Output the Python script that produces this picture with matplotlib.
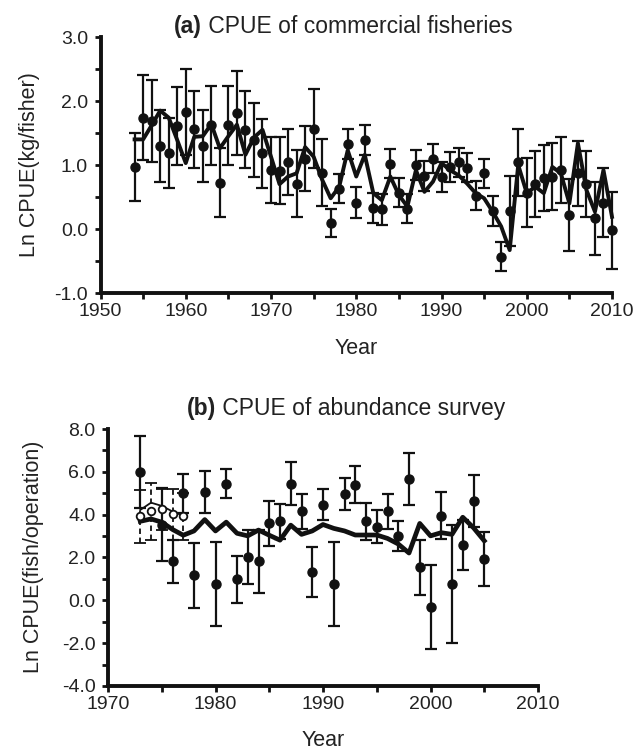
import numpy as np
import matplotlib.pyplot as plt
from matplotlib.ticker import MultipleLocator, FormatStrFormatter

plt.rcParams['font.family'] = ['Liberation Sans', 'DejaVu Sans']

# (a) commercial fisheries
years_a = list(range(1954, 2011))
cpue_a = [0.97, 1.74, 1.69, 1.30, 1.19, 1.61, 1.83, 1.56, 1.30, 1.62,
          0.72, 1.62, 1.81, 1.55, 1.39, 1.18, 0.92, 0.91, 1.05, 0.71,
          1.10, 1.57, 0.88, 0.09, 0.63, 1.33, 0.41, 1.39, 0.33, 0.31,
          1.02, 0.57, 0.32, 1.00, 0.83, 1.10, 0.81, 0.97, 1.04, 0.96,
          0.52, 0.87, 0.28, -0.43, 0.28, 1.04, 0.57, 0.70, 0.80, 0.82,
          0.92, 0.22, 0.87, 0.70, 0.17, 0.41, -0.02]
err_a = [0.53, 0.66, 0.64, 0.56, 0.55, 0.61, 0.67, 0.60, 0.56, 0.62,
         0.54, 0.62, 0.66, 0.60, 0.58, 0.54, 0.52, 0.52, 0.52, 0.53,
         0.51, 0.61, 0.52, 0.22, 0.23, 0.23, 0.24, 0.23, 0.24, 0.24,
         0.23, 0.23, 0.23, 0.24, 0.23, 0.23, 0.23, 0.23, 0.23, 0.23,
         0.23, 0.23, 0.23, 0.23, 0.55, 0.52, 0.54, 0.52, 0.52, 0.52,
         0.52, 0.56, 0.51, 0.52, 0.57, 0.54, 0.60]
fit_a = [1.40, 1.40, 1.62, 1.85, 1.74, 1.39, 1.03, 1.44, 1.45, 1.64,
         1.26, 1.45, 1.63, 1.16, 1.43, 1.55, 1.13, 0.70, 0.82, 0.87,
         1.28, 1.13, 0.77, 0.48, 0.66, 1.23, 0.82, 1.16, 0.56, 0.45,
         0.82, 0.53, 0.35, 0.92, 0.58, 0.74, 1.03, 0.92, 0.84, 0.71,
         0.56, 0.48, 0.27, 0.04, -0.33, 1.00, 0.56, 0.66, 0.56, 0.97,
         0.87, 0.40, 1.34, 0.61, 0.27, 0.92, 0.19]

# (b) abundance survey
years_b = [1973, 1975, 1976, 1977, 1978, 1979, 1980, 1981, 1982, 1983,
           1984, 1985, 1986, 1987, 1988, 1989, 1990, 1991, 1992, 1993,
           1994, 1995, 1996, 1997, 1998, 1999, 2000, 2001, 2002, 2003,
           2004, 2005]
cpue_b = [5.98, 3.54, 1.82, 4.99, 1.18, 5.07, 0.76, 5.45, 0.98, 2.02,
          1.82, 3.59, 3.69, 5.45, 4.15, 1.33, 4.46, 0.76, 4.95, 5.40,
          3.69, 3.44, 4.15, 3.01, 5.65, 1.54, -0.32, 3.95, 0.75, 2.58,
          4.64, 1.91]
err_b = [1.68, 1.72, 1.02, 0.93, 1.52, 0.99, 1.95, 0.69, 1.10, 1.27,
         1.46, 1.07, 0.82, 1.00, 0.82, 1.17, 0.73, 1.95, 0.74, 0.85,
         0.86, 0.77, 0.80, 0.70, 1.22, 1.28, 1.95, 1.09, 2.76, 1.16,
         1.20, 1.26]
years_fit_b = list(range(1973, 2006))
fit_b = [3.69, 3.80, 3.65, 3.31, 3.04, 3.24, 3.77, 3.24, 3.65, 3.13,
         3.01, 3.28, 3.04, 2.81, 3.51, 3.08, 3.24, 3.54, 3.36, 3.24,
         3.05, 3.05, 3.05, 2.89, 2.63, 2.21, 3.59, 3.01, 3.16, 3.08,
         3.88, 3.39, 2.78]
years_open = [1973, 1974, 1975, 1976, 1977]
cpue_open = [3.92, 4.15, 4.26, 4.03, 3.92]
err_open = [1.23, 1.33, 0.96, 1.19, 1.10]
fit_open = [4.22, 4.56, 4.41, 4.15, 3.95]

W, H = 644, 753
BLACK = '#111111'
TXT = '#222222'

fig = plt.figure(figsize=(W / 100, H / 100), dpi=100)
ax1 = fig.add_axes([100.5 / W, 1 - 293 / H, 511.5 / W, 256 / H])
ax2 = fig.add_axes([108 / W, 1 - 686 / H, 430 / W, 257 / H])


def style(ax):
    for s in ['top', 'right']:
        ax.spines[s].set_visible(False)
    for s in ['left', 'bottom']:
        ax.spines[s].set_linewidth(2.8)
        ax.spines[s].set_color(BLACK)
    ax.tick_params(which='both', length=4, width=2, colors=BLACK,
                   labelsize=14, labelcolor=TXT)
    ax.tick_params(axis='x', which='major', pad=3)
    ax.tick_params(axis='y', which='major', pad=5)
    ax.yaxis.set_major_formatter(FormatStrFormatter('%.1f'))


def title(ax, tag, text, x_px, base_px):
    t = fig.text(x_px / W, 1 - base_px / H, tag, fontsize=16.5,
                 fontweight='bold', ha='left', va='baseline', color=TXT)
    ax.annotate(' ' + text, xy=(1, 0), xycoords=t, fontsize=16.5,
                ha='left', va='bottom', color=TXT, annotation_clip=False)


# panel a
eb = ax1.errorbar(years_a, cpue_a, yerr=err_a, fmt='o', color=BLACK,
                  ms=6.5, elinewidth=1.6, capsize=4, capthick=1.6)
for art in eb.lines[1] + eb.lines[2] + (eb.lines[0],):
    art.set_clip_on(False)
ax1.plot(years_a, fit_a, color=BLACK, lw=2.8, clip_on=False)
ax1.set_xlim(1950, 2010)
ax1.set_ylim(-1, 3)
ax1.xaxis.set_major_locator(MultipleLocator(10))
ax1.xaxis.set_minor_locator(MultipleLocator(5))
ax1.yaxis.set_major_locator(MultipleLocator(1))
ax1.yaxis.set_minor_locator(MultipleLocator(0.5))
style(ax1)

# panel b
eo = ax2.errorbar(years_open, cpue_open, yerr=err_open, fmt='o', color=BLACK,
                  mfc='white', mew=1.3, ms=5.5, elinewidth=1.3, capsize=4,
                  capthick=1.3)
eo.lines[2][0].set_linestyle((0, (3, 2)))
ax2.plot(years_open, fit_open, color=BLACK, lw=1.3)
ax2.errorbar(years_b, cpue_b, yerr=err_b, fmt='o', color=BLACK,
             ms=6.5, elinewidth=1.6, capsize=4, capthick=1.6)
ax2.plot(years_fit_b, fit_b, color=BLACK, lw=3.4)
ax2.set_xlim(1970, 2010)
ax2.set_ylim(-4, 8)
ax2.xaxis.set_major_locator(MultipleLocator(10))
ax2.xaxis.set_minor_locator(MultipleLocator(5))
ax2.yaxis.set_major_locator(MultipleLocator(2))
ax2.yaxis.set_minor_locator(MultipleLocator(1))
style(ax2)

# axis labels
fig.text(30 / W, 1 - 165 / H, 'Ln CPUE(kg/fisher)', rotation=90,
         ha='center', va='center', fontsize=15.5, color=TXT)
fig.text(34 / W, 1 - 557 / H, 'Ln CPUE(fish/operation)', rotation=90,
         ha='center', va='center', fontsize=15.5, color=TXT)
fig.text(356 / W, 1 - 349 / H, 'Year', ha='center', va='center',
         fontsize=15.5, color=TXT)
fig.text(323 / W, 1 - 741 / H, 'Year', ha='center', va='center',
         fontsize=15.5, color=TXT)

title(ax1, '(a)', 'CPUE of commercial fisheries', 174, 33)
title(ax2, '(b)', 'CPUE of abundance survey', 187, 415)

fig.savefig('out.png', dpi=100)
